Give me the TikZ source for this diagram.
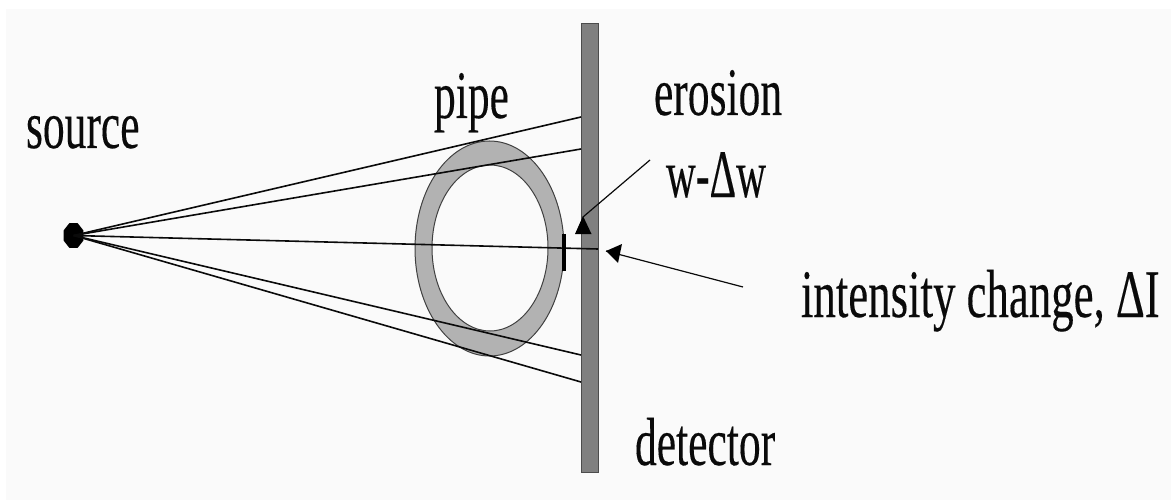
\documentclass[tikz,border=0pt]{standalone}
\usepackage{fontspec}
\setmainfont{Liberation Serif}
\newfontfamily\lblfont[FakeBold=0.25]{Liberation Serif}
\usetikzlibrary{shapes.geometric,arrows.meta}
\definecolor{bgc}{HTML}{FAFAFA}
\definecolor{ringc}{HTML}{B2B2B2}
\definecolor{detc}{HTML}{808080}
\definecolor{inkc}{HTML}{0A0A0A}
\tikzset{
  lbl/.style={anchor=base west,inner sep=0pt,outer sep=0pt,transform shape,xscale=.64,text=inkc,font=\lblfont\fontsize{68}{68}\selectfont},
  ray/.style={draw=inkc,line width=1.6pt},
  lead/.style={draw=inkc,line width=1.2pt},
  ringline/.style={draw=black!75,line width=1pt},
}
\begin{document}
\begin{tikzpicture}[x=1pt,y=-1pt]
\useasboundingbox (0,0) rectangle (1171,500);
\fill[white] (0,0) rectangle (1171,500);
\fill[bgc] (6,9) rectangle (1171,500);
% pipe
\draw[ringline,fill=ringc] (489.5,248.5) ellipse [x radius=74.5,y radius=107.5];
\draw[ringline,fill=bgc] (490,248) ellipse [x radius=58,y radius=83];
% detector
\node[draw=black!70,line width=1pt,fill=detc,minimum width=17pt,minimum height=448pt,inner sep=0pt,anchor=center] (det) at (590,248) {};
% source
\node[regular polygon,regular polygon sides=8,fill=black,inner sep=0pt,minimum size=25pt,xscale=.85,yscale=1.08,transform shape] (src) at (73.5,235.5) {};
\coordinate (r1) at (581,117);
\coordinate (r2) at (581,149);
\coordinate (r3) at (581,355);
\coordinate (r4) at (581,382);
\coordinate (r5) at (598,249);
\draw[ray] (src.center) -- (r1);
\draw[ray] (src.center) -- (r2);
\draw[ray] (src.center) -- (r3);
\draw[ray] (src.center) -- (r4);
\draw[ray] (src.center) -- (r5);
% erosion mark
\coordinate (e1) at (564,234);
\coordinate (e2) at (564,271);
\draw[black,line width=3.5pt] (e1) -- (e2);
% leaders
\coordinate (a1s) at (650,160);
\coordinate (a1e) at (583,217);
\coordinate (a2s) at (743,287);
\coordinate (a2e) at (606,251);
\draw[lead] (a1s) -- (a1e);
\fill[black] (583,216) -- (591.5,234) -- (575,234) -- cycle;
\draw[lead] (a2s) -- (a2e);
\fill[black] (606,251) -- (622,244) -- (618,263) -- cycle;
% labels
\node[lbl] (source) at (26,148) {source};
\node[lbl] (pipe) at (434,118) {pipe};
\node[lbl] (erosion) at (654,115) {erosion};
\node[lbl,xscale=.95] (wdw) at (666,197) {w-Δw};
\node[lbl,xscale=1.03] (ic) at (801,317) {intensity change, ΔI};
\node[lbl] (detector) at (635,465) {detector};
\end{tikzpicture}
\end{document}
